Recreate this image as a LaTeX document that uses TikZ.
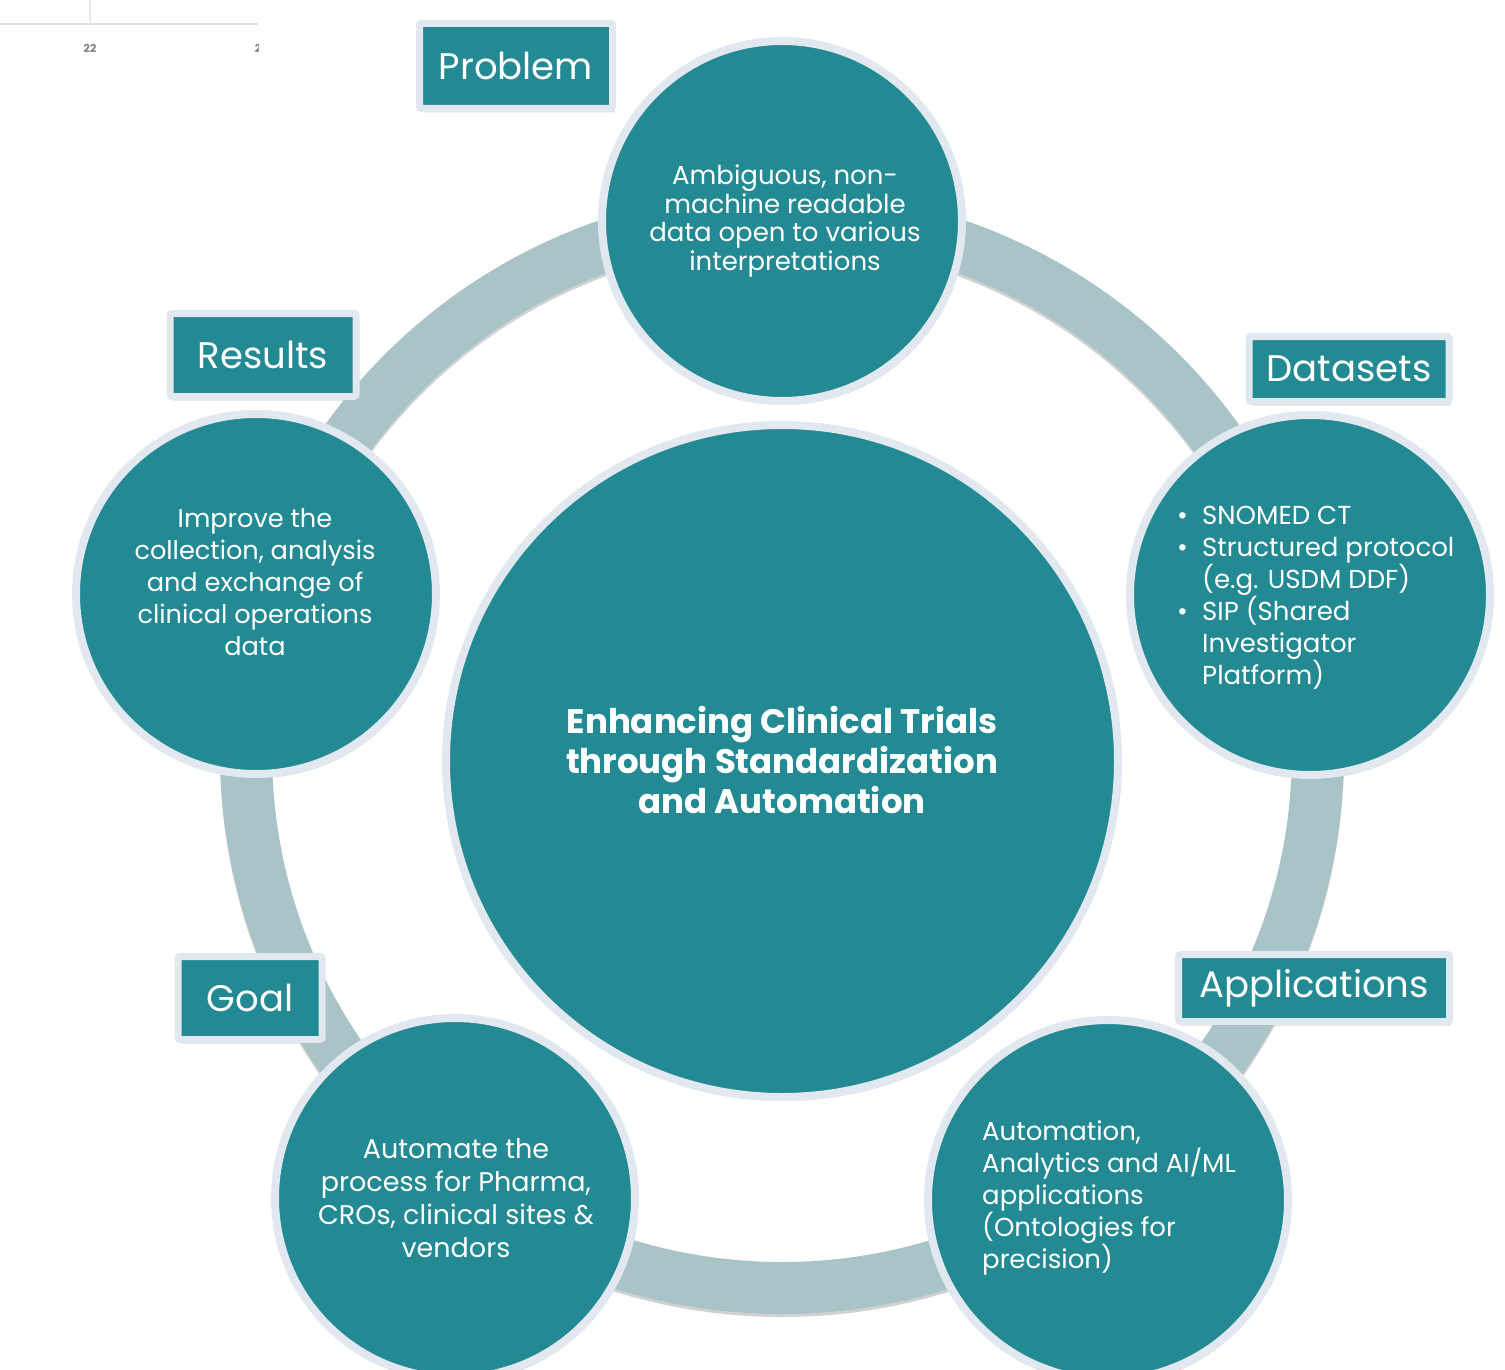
\documentclass[tikz,border=0pt]{standalone}
\usepackage{fontspec}
\setmainfont{Poppins}
\usetikzlibrary{shapes,positioning,shadows}
\definecolor{TrialTeal}{RGB}{35,138,147}
\definecolor{RimGray}{RGB}{226,232,240}
\definecolor{RingGray}{RGB}{169,196,199}
\tikzstyle{Hub}   = [circle, draw=RimGray, line width=8pt, fill=TrialTeal, inner sep=0pt,
                     drop shadow={opacity=0.25, shadow xshift=2pt, shadow yshift=-4pt}]
\tikzstyle{Label} = [draw=RimGray, line width=7pt, fill=TrialTeal, text=white, inner sep=0pt,
                     rounded corners=2pt, font=\fontsize{37}{44}\selectfont,
                     drop shadow={opacity=0.25, shadow xshift=2pt, shadow yshift=-4pt}]
\tikzstyle{Body}  = [text=white, inner sep=0pt]

\begin{document}
\begin{tikzpicture}[x=1pt, y=-1pt]
    \useasboundingbox (0,0) rectangle (1505,1370);
    % leftover of a chart in the corner
    \draw[black!12, line width=2pt] (0,24) -- (258,24);
    \draw[black!8, line width=2pt] (90,0) -- (90,24);
    \node[text=black!50, font=\bfseries\fontsize{11}{12}\selectfont] (tick_a) at (90,48) {22};
    \begin{scope}
      \clip (240,30) rectangle (258,60);
      \node[text=black!50, font=\bfseries\fontsize{11}{12}\selectfont] (tick_b) at (258,48) {2};
    \end{scope}
    % ring
    \coordinate (ring) at (782,752);
    \draw[black, opacity=0.18, line width=52pt] ([yshift=-3pt]ring) circle[radius=536pt];
    \draw[RingGray, line width=52pt] (ring) circle[radius=536pt];
    % circles
    \node[Hub, minimum size=672pt] (trials)       at (782,761)  {};
    \node[Hub, minimum size=360pt] (problem)      at (782,221)  {};
    \node[Hub, minimum size=360pt] (datasets)     at (1310,595) {};
    \node[Hub, minimum size=360pt] (applications) at (1108,1200) {};
    \node[Hub, minimum size=360pt] (goal)         at (455,1198) {};
    \node[Hub, minimum size=360pt] (results)      at (256,594)  {};
    % texts
    \node[Body, align=center, font=\bfseries\fontsize{34}{40}\selectfont] (t_trials) at (782,760)
        {Enhancing Clinical Trials\\through Standardization\\and Automation};
    \node[Body, align=center, font=\fontsize{26}{28.7}\selectfont] (t_problem) at ([xshift=3pt]problem)
        {Ambiguous, non-\\machine readable\\data open to various\\interpretations};
    \node[Body, align=left, anchor=west, font=\fontsize{26}{32}\selectfont] (t_datasets) at (1177,598)
        {\makebox[25pt][l]{\textbullet}SNOMED CT\\
         \makebox[25pt][l]{\textbullet}Structured protocol\\
         \hspace*{25pt}(e.g. USDM DDF)\\
         \makebox[25pt][l]{\textbullet}SIP (Shared\\
         \hspace*{25pt}Investigator\\
         \hspace*{25pt}Platform)};
    \node[Body, align=left, anchor=west, font=\fontsize{26}{32}\selectfont] (t_applications) at (982,1198)
        {Automation,\\Analytics and AI/ML\\applications\\(Ontologies for\\precision)};
    \node[Body, align=center, font=\fontsize{27}{33}\selectfont] (t_goal) at (456,1198)
        {Automate the\\process for Pharma,\\CROs, clinical sites \&\\vendors};
    \node[Body, align=center, font=\fontsize{25.6}{32}\selectfont] (t_results) at (255,582)
        {Improve the\\collection, analysis\\and exchange of\\clinical operations\\data};
    % labels
    \node[Label, minimum width=193pt, minimum height=85pt] (l_problem)      at (516,66)   {Problem};
    \node[Label, minimum width=200pt, minimum height=65pt] (l_datasets)     at (1349,369) {Datasets};
    \node[Label, minimum width=271pt, minimum height=67pt] (l_applications) at (1314,988) {Applications};
    \node[Label, minimum width=144pt, minimum height=83pt] (l_goal)         at (250,998)  {Goal};
    \node[Label, minimum width=186pt, minimum height=83pt] (l_results)      at (263,355)  {Results};
\end{tikzpicture}
\end{document}
